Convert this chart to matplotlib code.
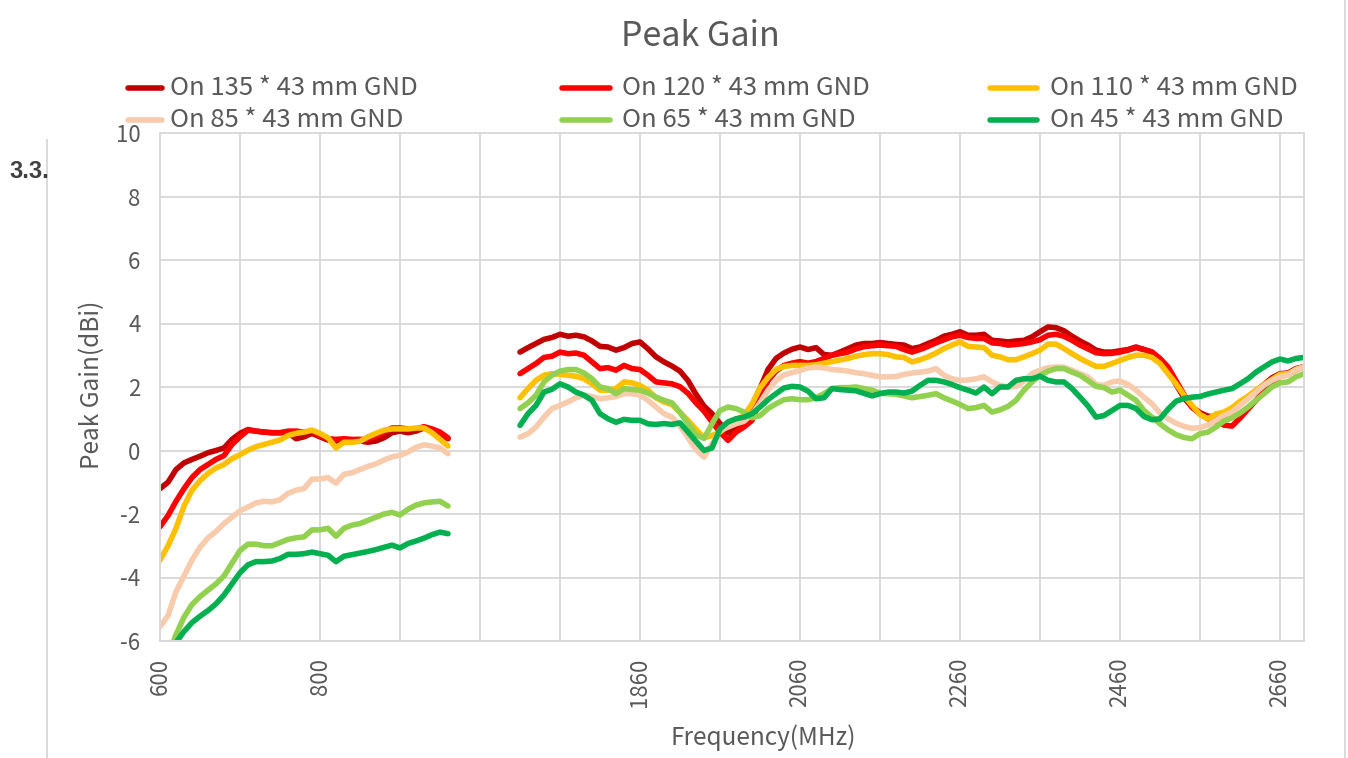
import numpy as np
import matplotlib
matplotlib.use("Agg")
import matplotlib.pyplot as plt
from matplotlib.lines import Line2D

plt.rcParams['font.family'] = ['Noto Sans CJK SC', 'DejaVu Sans']

# ---------------- data ----------------
low_freq = list(range(600, 961, 10))      # MHz, 37 points
high_freq = list(range(1710, 2691, 10))   # MHz, 99 points

series_names = ["On 135 * 43 mm GND", "On 120 * 43 mm GND", "On 110 * 43 mm GND",
                "On 85 * 43 mm GND", "On 65 * 43 mm GND", "On 45 * 43 mm GND"]
series_colors = ["#C00000", "#FF0000", "#FFC000", "#F8CBAD", "#92D050", "#00B050"]

gnd135_low = [-1.2, -1.0, -0.6, -0.39, -0.28, -0.18, -0.07, 0.0, 0.08, 0.35,
              0.54, 0.66, 0.61, 0.58, 0.56, 0.56, 0.57, 0.37, 0.43, 0.54,
              0.43, 0.33, 0.3, 0.32, 0.3, 0.3, 0.26, 0.3, 0.4, 0.56,
              0.61, 0.56, 0.61, 0.71, 0.61, 0.5, 0.37]
gnd120_low = [-2.4, -2.05, -1.6, -1.2, -0.85, -0.6, -0.44, -0.28, -0.16, 0.19,
              0.43, 0.64, 0.61, 0.58, 0.56, 0.56, 0.61, 0.61, 0.58, 0.61,
              0.45, 0.37, 0.35, 0.37, 0.35, 0.35, 0.35, 0.45, 0.58, 0.71,
              0.71, 0.68, 0.68, 0.75, 0.68, 0.58, 0.4]
gnd110_low = [-3.45, -3.0, -2.45, -1.75, -1.25, -0.95, -0.72, -0.55, -0.44, -0.26,
              -0.13, 0.01, 0.12, 0.19, 0.26, 0.33, 0.47, 0.54, 0.58, 0.64,
              0.54, 0.4, 0.08, 0.26, 0.26, 0.29, 0.43, 0.54, 0.64, 0.68,
              0.68, 0.68, 0.71, 0.71, 0.56, 0.35, 0.14]
gnd85_low = [-5.55, -5.2, -4.45, -3.95, -3.45, -3.05, -2.75, -2.55, -2.3, -2.1,
             -1.9, -1.78, -1.65, -1.6, -1.62, -1.55, -1.35, -1.25, -1.2, -0.9,
             -0.9, -0.85, -1.03, -0.75, -0.7, -0.6, -0.5, -0.42, -0.3, -0.2,
             -0.15, -0.05, 0.1, 0.18, 0.14, 0.08, -0.1]
gnd65_low = [-7.0, -6.5, -5.8, -5.25, -4.85, -4.6, -4.4, -4.2, -3.95, -3.55,
             -3.15, -2.95, -2.95, -3.0, -3.0, -2.9, -2.8, -2.75, -2.72, -2.5,
             -2.5, -2.45, -2.7, -2.45, -2.35, -2.3, -2.2, -2.1, -2.0, -1.95,
             -2.03, -1.85, -1.72, -1.65, -1.62, -1.6, -1.75]
gnd45_low = [-7.3, -6.7, -6.05, -5.7, -5.42, -5.22, -5.04, -4.83, -4.55, -4.2,
             -3.85, -3.6, -3.5, -3.5, -3.48, -3.4, -3.27, -3.27, -3.25, -3.2,
             -3.25, -3.3, -3.5, -3.33, -3.28, -3.23, -3.18, -3.12, -3.05, -2.98,
             -3.07, -2.93, -2.85, -2.76, -2.65, -2.57, -2.62]

gnd135_high = [3.1, 3.24, 3.37, 3.5, 3.56, 3.66, 3.6, 3.63, 3.58, 3.45,
               3.28, 3.26, 3.16, 3.24, 3.37, 3.42, 3.2, 2.95, 2.79, 2.66,
               2.5, 2.2, 1.77, 1.4, 1.16, 0.85, 0.55, 0.7, 0.95, 1.4,
               1.95, 2.55, 2.9, 3.07, 3.19, 3.26, 3.18, 3.24, 3.02, 3.0,
               3.1, 3.21, 3.32, 3.37, 3.37, 3.4, 3.37, 3.34, 3.32, 3.21,
               3.26, 3.37, 3.47, 3.6, 3.66, 3.74, 3.63, 3.63, 3.66, 3.47,
               3.45, 3.42, 3.45, 3.47, 3.58, 3.74, 3.89, 3.87, 3.77, 3.6,
               3.45, 3.32, 3.16, 3.1, 3.1, 3.14, 3.18, 3.26, 3.18, 3.1,
               2.87, 2.55, 2.08, 1.66, 1.37, 1.19, 1.08, 1.06, 1.13, 1.27,
               1.47, 1.68, 1.87, 2.08, 2.29, 2.42, 2.44, 2.58, 2.64]
gnd120_high = [2.42, 2.58, 2.74, 2.93, 2.97, 3.1, 3.05, 3.07, 3.0, 2.79,
               2.58, 2.61, 2.53, 2.68, 2.58, 2.55, 2.37, 2.16, 2.13, 2.1,
               2.01, 1.8, 1.5, 1.24, 0.9, 0.58, 0.32, 0.58, 0.74, 0.95,
               1.58, 2.2, 2.5, 2.68, 2.75, 2.8, 2.75, 2.8, 2.9, 3.0,
               3.05, 3.1, 3.2, 3.27, 3.3, 3.32, 3.3, 3.28, 3.18, 3.1,
               3.18, 3.28, 3.39, 3.49, 3.58, 3.63, 3.56, 3.53, 3.53, 3.39,
               3.37, 3.32, 3.34, 3.37, 3.42, 3.49, 3.63, 3.66, 3.6, 3.47,
               3.32, 3.2, 3.08, 3.05, 3.06, 3.1, 3.16, 3.24, 3.18, 3.1,
               2.9, 2.63, 2.2, 1.76, 1.36, 1.15, 1.0, 0.9, 0.8, 0.77,
               1.02, 1.3, 1.58, 1.87, 2.13, 2.34, 2.4, 2.54, 2.64]
gnd110_high = [1.66, 1.95, 2.21, 2.37, 2.42, 2.4, 2.37, 2.34, 2.26, 2.1,
               1.9, 1.9, 1.95, 2.16, 2.13, 2.05, 1.9, 1.66, 1.53, 1.45,
               1.2, 0.95, 0.66, 0.4, 0.47, 0.58, 0.79, 0.95, 1.1, 1.47,
               1.97, 2.3, 2.55, 2.65, 2.68, 2.68, 2.68, 2.7, 2.75, 2.8,
               2.85, 2.9, 2.97, 3.02, 3.05, 3.05, 3.02, 2.95, 2.93, 2.79,
               2.86, 2.95, 3.07, 3.21, 3.32, 3.42, 3.28, 3.26, 3.24, 3.0,
               2.95, 2.86, 2.86, 2.95, 3.05, 3.16, 3.35, 3.35, 3.21, 3.05,
               2.9, 2.77, 2.65, 2.65, 2.74, 2.84, 2.93, 3.0, 3.0, 2.93,
               2.74, 2.42, 2.1, 1.74, 1.42, 1.13, 1.0, 1.15, 1.21, 1.35,
               1.55, 1.71, 1.9, 2.08, 2.24, 2.4, 2.42, 2.55, 2.64]
gnd85_high = [0.42, 0.53, 0.74, 1.05, 1.32, 1.42, 1.53, 1.66, 1.74, 1.7,
              1.63, 1.66, 1.7, 1.79, 1.79, 1.74, 1.58, 1.37, 1.16, 1.05,
              0.78, 0.4, 0.03, -0.21, 0.21, 0.63, 0.74, 0.84, 0.92, 1.15,
              1.5, 1.9, 2.2, 2.38, 2.45, 2.52, 2.6, 2.63, 2.6, 2.55,
              2.53, 2.5, 2.45, 2.42, 2.37, 2.32, 2.32, 2.33, 2.4, 2.44,
              2.47, 2.5, 2.58, 2.37, 2.26, 2.21, 2.22, 2.26, 2.32, 2.16,
              2.05, 2.0, 2.02, 2.19, 2.42, 2.53, 2.61, 2.63, 2.62, 2.53,
              2.42, 2.32, 2.08, 2.05, 2.16, 2.19, 2.08, 1.9, 1.68, 1.47,
              1.18, 1.0, 0.86, 0.76, 0.7, 0.72, 0.8, 0.95, 1.1, 1.21,
              1.42, 1.63, 1.84, 2.05, 2.21, 2.32, 2.37, 2.55, 2.63]
gnd65_high = [1.32, 1.5, 1.74, 2.16, 2.37, 2.5, 2.55, 2.55, 2.44, 2.26,
              2.0, 1.95, 1.79, 1.95, 1.92, 1.9, 1.81, 1.68, 1.58, 1.5,
              1.2, 0.85, 0.5, 0.38, 0.84, 1.26, 1.37, 1.32, 1.21, 1.03,
              1.1, 1.32, 1.47, 1.6, 1.63, 1.6, 1.6, 1.66, 1.79, 1.95,
              1.98, 1.98, 2.0, 1.95, 1.9, 1.81, 1.79, 1.77, 1.72, 1.66,
              1.7, 1.74, 1.79, 1.66, 1.56, 1.45, 1.32, 1.35, 1.42, 1.21,
              1.28, 1.39, 1.58, 1.9, 2.16, 2.37, 2.5, 2.58, 2.58, 2.47,
              2.37, 2.2, 2.02, 1.98, 1.84, 1.9, 1.74, 1.58, 1.26, 1.05,
              0.84, 0.65, 0.5, 0.41, 0.37, 0.53, 0.58, 0.74, 0.93, 1.03,
              1.18, 1.37, 1.58, 1.79, 2.0, 2.13, 2.16, 2.32, 2.42]
gnd45_high = [0.79, 1.16, 1.42, 1.84, 1.93, 2.1, 2.0, 1.84, 1.74, 1.58,
              1.16, 1.0, 0.89, 0.98, 0.95, 0.95, 0.84, 0.82, 0.85, 0.82,
              0.87, 0.58, 0.29, 0.0, 0.08, 0.68, 0.9, 1.0, 1.05, 1.16,
              1.37, 1.6, 1.79, 1.97, 2.02, 2.0, 1.87, 1.63, 1.66, 1.95,
              1.92, 1.9, 1.88, 1.8, 1.72, 1.79, 1.84, 1.84, 1.81, 1.87,
              2.05, 2.21, 2.21, 2.16, 2.08, 1.98, 1.9, 1.81, 2.0, 1.79,
              2.0, 2.0, 2.21, 2.26, 2.26, 2.34, 2.21, 2.16, 2.16, 1.95,
              1.68, 1.4, 1.05, 1.1, 1.26, 1.42, 1.42, 1.32, 1.07, 0.97,
              1.0, 1.3, 1.55, 1.64, 1.68, 1.7, 1.78, 1.84, 1.9, 1.95,
              2.1, 2.26, 2.47, 2.63, 2.79, 2.88, 2.82, 2.9, 2.93]

low_series = [gnd135_low, gnd120_low, gnd110_low, gnd85_low, gnd65_low, gnd45_low]
high_series = [gnd135_high, gnd120_high, gnd110_high, gnd85_high, gnd65_high, gnd45_high]

x_tick_labels = ["600", "800", "", "1860", "2060", "2260", "2460", "2660"]
y_ticks = [-6, -4, -2, 0, 2, 4, 6, 8, 10]

# category-like axis: low band and high band placed side by side
def pos_low(f):
    return np.asarray(f, dtype=float) - 600.0

def pos_high(f):
    return np.asarray(f, dtype=float) - 1260.0

# ---------------- figure ----------------
W, H = 1348, 758
fig = plt.figure(figsize=(W / 100, H / 100), dpi=100)
fig.patch.set_facecolor("white")

def fx(px):
    return px / W

def fy(py):
    return 1 - py / H

ax = fig.add_axes([fx(160), fy(641), (1304 - 160) / W, (641 - 133) / H])
grid_c = "#D9D9D9"
text_c = "#595959"
fw = "light"

for y in y_ticks:
    ax.axhline(y, color=grid_c, lw=1.4, zorder=0)
for u in range(0, 1401, 100):
    ax.axvline(u, color=grid_c, lw=1.4, zorder=0)

lw = 4.0
for name, col, lo, hi in zip(series_names, series_colors, low_series, high_series):
    ax.plot(pos_low(low_freq), lo, color=col, lw=lw, solid_joinstyle="round",
            solid_capstyle="round", zorder=2)
    ax.plot(pos_high(high_freq), hi, color=col, lw=lw, solid_joinstyle="round",
            solid_capstyle="round", zorder=2)

ax.set_xlim(0, 1430)
ax.set_ylim(-6, 10)
ax.set_yticks(y_ticks)
ax.set_yticklabels([str(v) for v in y_ticks], fontweight=fw)
ax.set_xticks([0, 200, 400, 600, 800, 1000, 1200, 1400])
ax.set_xticklabels(x_tick_labels, rotation=90, fontweight=fw)
ax.tick_params(axis="both", length=0, labelsize=16, labelcolor=text_c)
ax.tick_params(axis="y", pad=14)
ax.tick_params(axis="x", pad=12)
for s in ax.spines.values():
    s.set_color(grid_c)
    s.set_linewidth(1.4)
ax.set_facecolor("white")

fig.text(fx(92), fy(385), "Peak Gain(dBi)", fontsize=17.5, color=text_c,
         ha="center", va="center", rotation=90, fontweight=fw)
fig.text(fx(763), fy(738), "Frequency(MHz)", fontsize=17.5, color=text_c,
         ha="center", va="center", fontweight=fw)

# title
fig.text(fx(700), fy(37), "Peak Gain", fontsize=24.5, color=text_c,
         ha="center", va="center", fontweight=fw)

# legend (manual layout, 2 rows x 3 columns)
leg_rows = [88, 120]
leg_cols = [(128, 162, 170), (562, 610, 622), (990, 1037, 1050)]
for i, (name, col) in enumerate(zip(series_names, series_colors)):
    r, c = divmod(i, 3)
    x0, x1, xt = leg_cols[c]
    yy = leg_rows[r]
    fig.add_artist(Line2D([fx(x0), fx(x1)], [fy(yy), fy(yy)], color=col, lw=lw,
                          solid_capstyle="round", transform=fig.transFigure))
    fig.text(fx(xt), fy(yy), name, fontsize=18.5, color=text_c, ha="left",
             va="center", fontweight=fw)

# page artefacts
fig.text(fx(9), fy(172), "3.3.", fontsize=17, fontweight="bold", color="#404040",
         ha="left", va="center", family=["Liberation Sans", "DejaVu Sans"])
fig.add_artist(Line2D([fx(47), fx(47)], [0, fy(140)], color=grid_c, lw=1.4,
                      transform=fig.transFigure))
fig.add_artist(Line2D([fx(1345), fx(1345)], [0, 1], color=grid_c, lw=1.4,
                      transform=fig.transFigure))

fig.savefig("out.png", dpi=100)
